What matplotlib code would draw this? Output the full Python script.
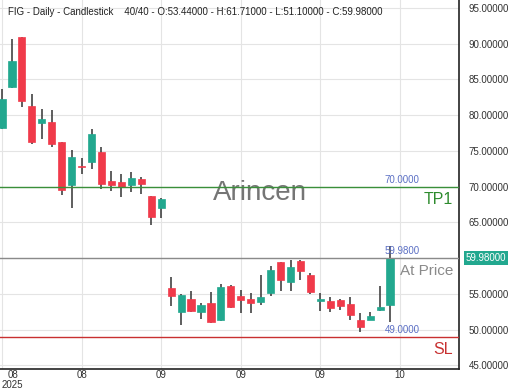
import matplotlib
matplotlib.use("Agg")
import matplotlib.pyplot as plt
import matplotlib.transforms as mtransforms
from matplotlib.patches import Rectangle

plt.rcParams['font.family'] = ['Liberation Sans', 'DejaVu Sans']

# daily candles
opens = [78.2, 84.0, 90.9, 81.3, 78.9, 79.1, 76.2, 70.2, 72.9, 73.5,
         74.8, 70.8, 70.7, 70.2, 71.0, 68.7, 66.95, 55.85, 52.5, 54.3,
         52.5, 53.7, 51.3, 56.1, 54.7, 54.3, 53.9, 55.1, 59.4, 56.7,
         59.6, 57.6, 54.0, 54.0, 54.1, 53.65, 51.3, 51.4, 52.7, 53.44]
highs = [83.7, 90.6, 90.9, 82.9, 80.9, 80.7, 76.2, 75.1, 74.0, 78.0,
         75.6, 72.2, 71.75, 72.1, 71.4, 68.7, 68.4, 57.4, 55.0, 55.4,
         53.7, 55.2, 56.4, 56.2, 55.6, 55.1, 57.6, 58.9, 59.5, 59.7,
         59.7, 57.85, 55.1, 54.5, 54.35, 54.5, 52.35, 52.4, 56.1, 61.71]
lows = [78.1, 83.8, 81.1, 76.0, 76.6, 75.6, 68.8, 67.0, 71.8, 72.5,
        69.7, 69.4, 68.6, 69.3, 69.0, 64.6, 65.55, 53.3, 50.6, 52.5,
        51.5, 50.95, 51.2, 53.0, 52.35, 52.35, 53.4, 54.7, 55.4, 55.4,
        57.0, 55.0, 52.6, 52.4, 52.7, 51.4, 49.7, 51.3, 52.6, 51.10]
closes = [82.3, 87.5, 82.0, 76.2, 79.4, 76.0, 69.5, 74.2, 72.8, 77.4,
          70.4, 70.2, 69.9, 71.2, 70.3, 65.8, 68.2, 54.7, 54.9, 52.6,
          53.4, 51.1, 56.0, 53.1, 54.2, 53.75, 54.6, 58.35, 57.0, 58.8,
          58.2, 55.3, 54.35, 53.0, 53.3, 52.0, 50.4, 51.9, 53.1, 59.98]

tick_pos = [0, 8, 16, 24, 32, 40]
tick_labels = ['08\n2025', '08', '09', '09', '09', '10']
y_ticks = [45, 50, 55, 60, 65, 70, 75, 80, 85, 90, 95]

tp1 = 70.0
at_price = 59.98
sl = 49.0

up_col = '#22a88f'
down_col = '#f03a4a'

fig = plt.figure(figsize=(5.2, 3.9), dpi=100)
ax = fig.add_axes([0.0, 0.054, 0.8827, 0.946])

for i in range(len(opens)):
    o, h, l, c = opens[i], highs[i], lows[i], closes[i]
    col = up_col if c >= o else down_col
    ax.vlines(i, l, h, color='#333333', lw=1.1, zorder=2)
    lo, hi = min(o, c), max(o, c)
    ax.add_patch(Rectangle((i - 0.36, lo), 0.72, max(hi - lo, 0.12),
                           facecolor=col, edgecolor=col, lw=0.5, zorder=3))

ax.set_xlim(-0.2, 45.93)
ax.set_ylim(44.5, 96.1)

ax.yaxis.tick_right()
ax.set_yticks(y_ticks)
# the 60 label sits under the price tag
ax.set_yticklabels(['' if v == 60 else f'{v:.5f}' for v in y_ticks])
ax.set_xticks(tick_pos)
ax.set_xticklabels(tick_labels, linespacing=0.95)
first = ax.get_xticklabels()[0]
first.set_horizontalalignment('left')
first.set_multialignment('center')
ax.tick_params(axis='y', length=0, pad=7, labelsize=7, labelcolor='#333333')
ax.tick_params(axis='x', length=0, pad=1, labelsize=7, labelcolor='#333333')
ax.grid(True, color='#e4e4e4', lw=0.8, zorder=0)

for s in ['top', 'left']:
    ax.spines[s].set_visible(False)
ax.spines['right'].set_color('#222222')
ax.spines['bottom'].set_color('#222222')
ax.spines['right'].set_linewidth(1.2)
ax.spines['bottom'].set_linewidth(1.2)

# level lines
ax.axhline(tp1, color='#3a8f3a', lw=1.0, zorder=4)
ax.axhline(at_price, color='#8a8a8a', lw=1.0, zorder=4)
ax.axhline(sl, color='#c83030', lw=1.0, zorder=4)

for lvl in [tp1, at_price, sl]:
    ax.text(40.2, lvl + 0.25, f'{lvl:.4f}', color='#5b6fc4', fontsize=7,
            ha='center', va='bottom', zorder=5)

trans = mtransforms.blended_transform_factory(ax.transAxes, ax.transData)
ax.text(0.987, tp1 - 0.8, 'TP1', color='#2e8b2e', fontsize=11.5,
        ha='right', va='top', transform=trans)
ax.text(0.987, at_price - 0.8, 'At Price', color='#8a8a8a', fontsize=11,
        ha='right', va='top', transform=trans)
ax.text(0.987, sl - 0.8, 'SL', color='#c83030', fontsize=11.5,
        ha='right', va='top', transform=trans)

# current price tag on the axis
ax.text(1.015, at_price, f'{at_price:.5f}', color='white', fontsize=7,
        ha='left', va='center', transform=trans, clip_on=False,
        bbox=dict(boxstyle='square,pad=0.2', facecolor=up_col, edgecolor='none'))

ax.text(0.566, 0.477, 'Arincen', color='#666666', fontsize=20,
        ha='center', va='center', transform=ax.transAxes, alpha=0.9)

fig.text(8 / 520, 1 - 12 / 390,
         'FIG - Daily - Candlestick    40/40 - O:53.44000 - H:61.71000 - L:51.10000 - C:59.98000',
         fontsize=7, color='#222222', ha='left', va='center')

fig.savefig('out.png', dpi=100)
